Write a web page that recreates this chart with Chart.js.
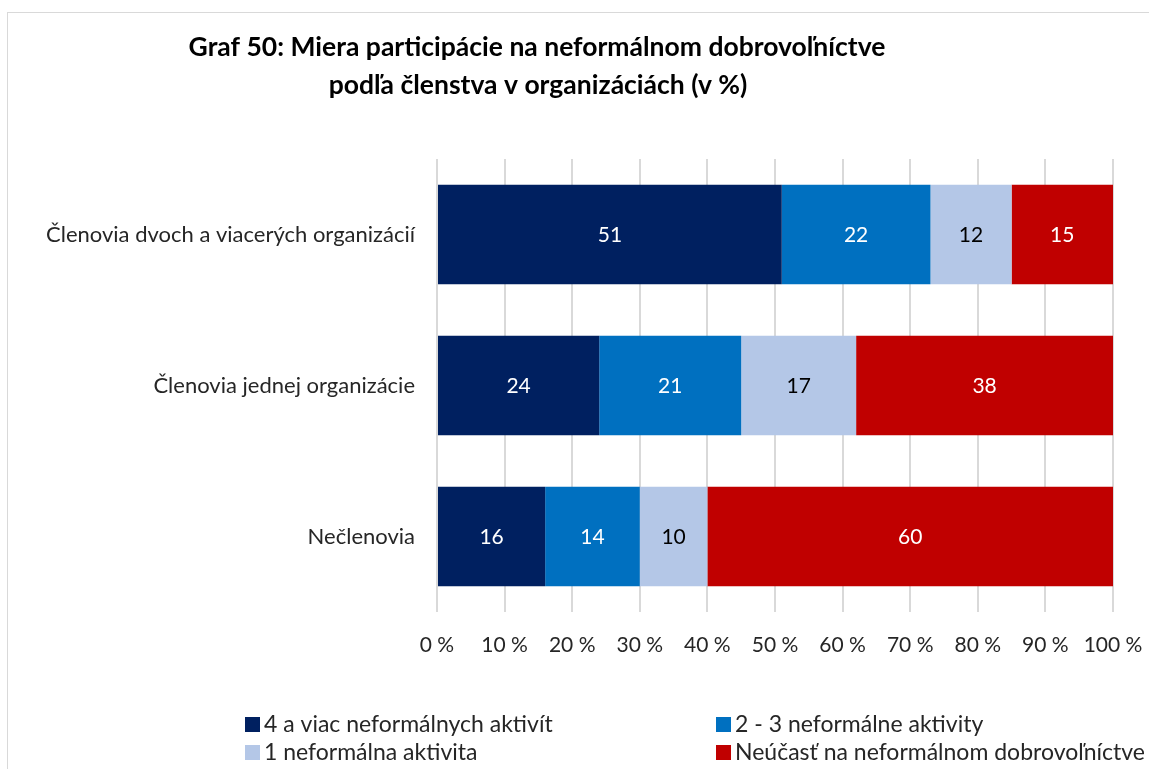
<!DOCTYPE html>
<html>
<head>
<meta charset="utf-8">
<script src="https://cdn.jsdelivr.net/npm/chart.js@4/dist/chart.umd.min.js"></script>
<style>
  html, body { margin: 0; padding: 0; background: #fff; }
  #wrap { width: 1149px; height: 769px; }
</style>
</head>
<body>
<div id="wrap"><canvas id="graf"></canvas></div>
<script>
// data
var kategorie = ["Členovia dvoch a viacerých organizácií", "Členovia jednej organizácie", "Nečlenovia"];
var styriAViac = [51, 24, 16];
var dveTri = [22, 21, 14];
var jedna = [12, 17, 10];
var neucast = [15, 38, 60];
var nazvySerii = ["4 a viac neformálnych aktivít", "2 - 3 neformálne aktivity", "1 neformálna aktivita", "Neúčasť na neformálnom dobrovoľníctve"];
var nadpis = ["Graf 50: Miera participácie na neformálnom dobrovoľníctve", "podľa členstva v organizáciách (v %)"];

var FONT = "Lato, 'Open Sans', sans-serif";
var farby = ['#002060', '#0070C0', '#B4C7E7', '#C00000'];
var farbyTextu = ['#ffffff', '#ffffff', '#000000', '#ffffff'];

// ram, nadpis, popisky a legenda
var kresliVsetko = {
    id: 'kresliVsetko',
    beforeDraw: function (chart) {
        var c = chart.ctx;
        c.save();
        c.strokeStyle = '#d9d9d9';
        c.lineWidth = 1;
        c.strokeRect(7.5, 12.5, 1200, 800);
        c.restore();
    },
    afterDraw: function (chart) {
        var c = chart.ctx;
        c.save();
        // nadpis
        c.fillStyle = '#000000';
        c.font = "bold 26.5px " + FONT;
        c.textAlign = 'center';
        c.textBaseline = 'middle';
        c.fillText(nadpis[0], 537, 47);
        c.fillText(nadpis[1], 538, 85);

        // hodnoty v stlpcoch
        c.font = "21px " + FONT;
        chart.data.datasets.forEach(function (ds, i) {
            var meta = chart.getDatasetMeta(i);
            meta.data.forEach(function (bar, j) {
                var mid = (bar.x + bar.base) / 2;
                c.fillStyle = farbyTextu[i];
                c.fillText(ds.data[j], mid, bar.y + 1);
            });
        });

        // legenda v dvoch stlpcoch
        var stlpce = [245, 716];
        var riadky = [724, 752];
        c.textAlign = 'left';
        c.font = "23px " + FONT;
        nazvySerii.forEach(function (nazov, i) {
            var x = stlpce[i % 2];
            var y = riadky[Math.floor(i / 2)];
            c.fillStyle = farby[i];
            c.fillRect(x, y - 7, 15, 15);
            c.fillStyle = '#262626';
            c.fillText(nazov, x + 19, y + 1);
        });
        c.restore();
    }
};

var ds = [styriAViac, dveTri, jedna, neucast].map(function (hodnoty, i) {
    return {
        label: nazvySerii[i],
        data: hodnoty,
        backgroundColor: farby[i],
        borderWidth: 0,
        barPercentage: 0.66,
        categoryPercentage: 1
    };
});

new Chart(document.getElementById('graf'), {
    type: 'bar',
    data: { labels: kategorie, datasets: ds },
    plugins: [kresliVsetko],
    options: {
        indexAxis: 'y',
        responsive: true,
        maintainAspectRatio: false,
        animation: false,
        layout: { padding: { left: 0, right: 36, top: 159, bottom: 107 } },
        plugins: {
            legend: { display: false },
            title: { display: false },
            tooltip: { enabled: false }
        },
        scales: {
            x: {
                stacked: true,
                min: 0,
                max: 100,
                ticks: {
                    stepSize: 10,
                    color: '#262626',
                    font: { family: FONT, size: 21 },
                    padding: 21,
                    maxRotation: 0,
                    callback: function (v) { return v + ' %'; }
                },
                grid: { color: '#d9d9d9', lineWidth: 2, drawTicks: false },
                border: { display: false },
                afterFit: function (s) {
                    s.height = 50;
                    s.paddingLeft = 0;
                    s.paddingRight = 0;
                }
            },
            y: {
                stacked: true,
                ticks: {
                    color: '#262626',
                    font: { family: FONT, size: 22 },
                    padding: 22
                },
                grid: { display: false, drawTicks: false },
                border: { display: false },
                afterFit: function (s) { s.width = 437; }
            }
        }
    }
});
</script>
</body>
</html>
